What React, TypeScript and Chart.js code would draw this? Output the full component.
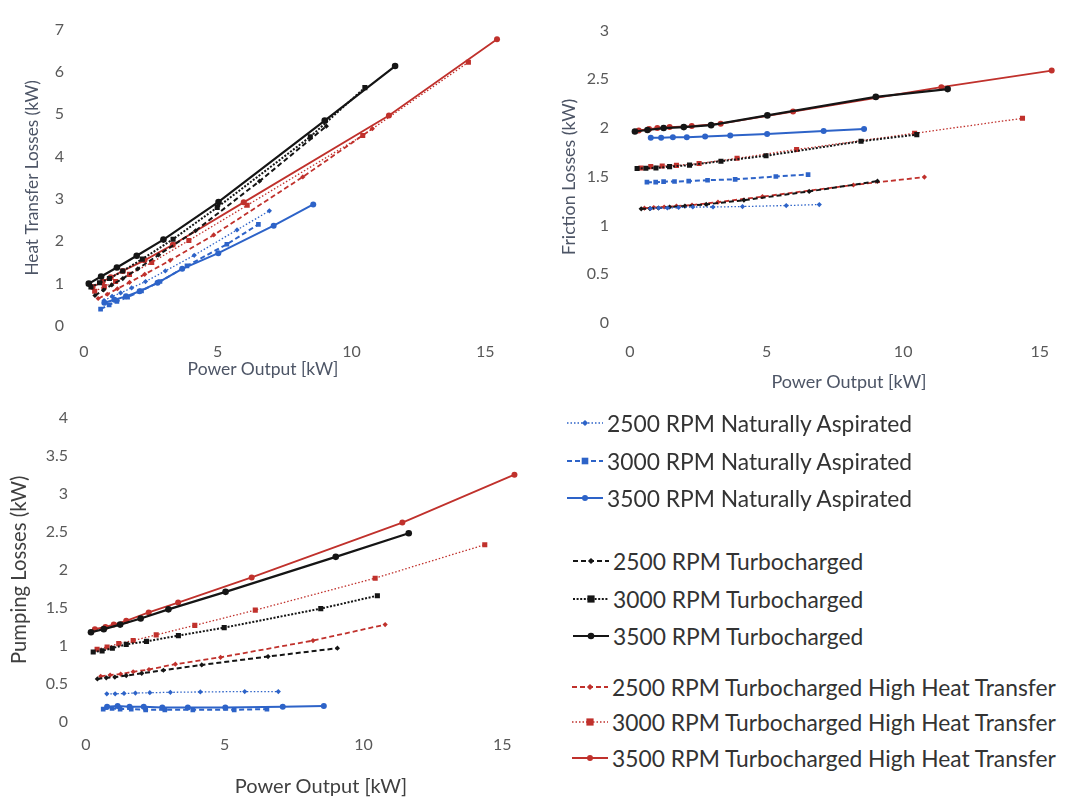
import React, { useEffect, useRef } from "react";
import { Chart, registerables } from "chart.js";

Chart.register(...registerables);

const FONT = "Lato, 'Open Sans', sans-serif";
const BLUE = "#2d63c8";
const BLACK = "#151515";
const RED = "#c0312c";
const TICK = "#595959";
const TITLE = "#4d5566";

// ---- Data (Power output [kW] and losses [kW]) ----
const NA2500_X = [0.75, 1.05, 1.37, 1.78, 2.3, 3.04, 4.12, 5.72, 6.93];
const NA2500_HEAT = [0.6, 0.7, 0.78, 0.9, 1.05, 1.3, 1.67, 2.27, 2.72];
const NA2500_FRICTION = [1.175, 1.18, 1.18, 1.185, 1.19, 1.19, 1.195, 1.205, 1.215];
const NA2500_PUMPING = [0.37, 0.37, 0.375, 0.38, 0.385, 0.39, 0.395, 0.4, 0.4];

const NA3000_X = [0.62, 0.94, 1.23, 1.63, 2.15, 2.84, 3.85, 5.34, 6.52];
const NA3000_HEAT = [0.4, 0.5, 0.58, 0.68, 0.83, 1.05, 1.42, 1.93, 2.4];
const NA3000_FRICTION = [1.445, 1.445, 1.45, 1.452, 1.455, 1.465, 1.474, 1.503, 1.523];
const NA3000_PUMPING = [0.17, 0.18, 0.17, 0.17, 0.16, 0.16, 0.16, 0.16, 0.17];

const NA3500_X = [0.76, 1.14, 1.57, 2.08, 2.75, 3.67, 5.02, 7.09, 8.57];
const NA3500_HEAT = [0.55, 0.62, 0.7, 0.82, 1.02, 1.35, 1.72, 2.37, 2.87];
const NA3500_FRICTION = [1.9, 1.9, 1.905, 1.907, 1.914, 1.925, 1.94, 1.97, 1.99];
const NA3500_PUMPING = [0.2, 0.21, 0.2, 0.2, 0.19, 0.19, 0.19, 0.2, 0.21];

const T2500_X = [0.41, 0.73, 1.04, 1.45, 2.01, 2.79, 4.17, 6.56, 9.06];
const T2500_HEAT = [0.72, 0.85, 0.97, 1.12, 1.35, 1.68, 2.25, 3.42, 4.72];
const T2500_FRICTION = [1.171, 1.174, 1.18, 1.19, 1.2, 1.217, 1.26, 1.35, 1.455];
const T2500_PUMPING = [0.566, 0.58, 0.59, 0.61, 0.64, 0.68, 0.75, 0.86, 0.97];

const T3000_X = [0.26, 0.58, 0.95, 1.45, 2.18, 3.33, 4.98, 8.46, 10.5];
const T3000_HEAT = [0.92, 1.02, 1.12, 1.3, 1.58, 2.05, 2.8, 4.47, 5.63];
const T3000_FRICTION = [1.585, 1.588, 1.59, 1.604, 1.62, 1.66, 1.716, 1.865, 1.933];
const T3000_PUMPING = [0.92, 0.935, 0.97, 1.02, 1.06, 1.135, 1.24, 1.49, 1.66];

const T3500_X = [0.18, 0.64, 1.23, 1.97, 2.97, 5.03, 9.0, 11.63];
const T3500_HEAT = [1.0, 1.17, 1.38, 1.66, 2.04, 2.93, 4.85, 6.14];
const T3500_FRICTION = [1.965, 1.98, 2.0, 2.01, 2.03, 2.13, 2.32, 2.4];
const T3500_PUMPING = [1.18, 1.22, 1.28, 1.36, 1.48, 1.71, 2.17, 2.48];

const H2500_X = [0.53, 0.87, 1.25, 1.7, 2.27, 3.22, 4.85, 8.18, 10.78];
const H2500_HEAT = [0.65, 0.75, 0.88, 1.03, 1.22, 1.55, 2.15, 3.52, 4.66];
const H2500_FRICTION = [1.178, 1.184, 1.19, 1.2, 1.21, 1.24, 1.297, 1.416, 1.497];
const H2500_PUMPING = [0.6, 0.617, 0.63, 0.66, 0.69, 0.76, 0.85, 1.07, 1.28];

const H3000_X = [0.4, 0.76, 1.18, 1.7, 2.53, 3.92, 6.1, 10.42, 14.37];
const H3000_HEAT = [0.82, 0.93, 1.05, 1.22, 1.5, 2.02, 2.85, 4.5, 6.23];
const H3000_FRICTION = [1.59, 1.604, 1.61, 1.617, 1.636, 1.69, 1.78, 1.946, 2.1];
const H3000_PUMPING = [0.956, 0.985, 1.03, 1.07, 1.145, 1.27, 1.47, 1.89, 2.33];

const H3500_X = [0.32, 0.7, 1.0, 1.45, 2.26, 3.32, 5.97, 11.4, 15.44];
const H3500_HEAT = [0.92, 1.05, 1.15, 1.3, 1.55, 1.92, 2.92, 4.97, 6.77];
const H3500_FRICTION = [1.975, 1.99, 2.0, 2.01, 2.02, 2.045, 2.17, 2.42, 2.59];
const H3500_PUMPING = [1.22, 1.25, 1.28, 1.33, 1.44, 1.57, 1.9, 2.62, 3.25];

const X_TICK_VALUES = [0, 5, 10, 15];
const X_TITLE = "Power Output [kW]";

type Field = "heat" | "friction" | "pumping";

interface Series {
  label: string;
  color: string;
  dash: number[];
  width: number;
  point: string;
  radius: number;
  x: number[];
  heat: number[];
  friction: number[];
  pumping: number[];
}

const DOT = [1.5, 2];
const DOT_T = [2, 1.6];
const DASH = [5, 3];

const SERIES: Series[] = [
  { label: "2500 RPM Naturally Aspirated", color: BLUE, dash: DOT, width: 1.3, point: "rectRot", radius: 2.6, x: NA2500_X, heat: NA2500_HEAT, friction: NA2500_FRICTION, pumping: NA2500_PUMPING },
  { label: "3000 RPM Naturally Aspirated", color: BLUE, dash: DASH, width: 2, point: "rect", radius: 3.3, x: NA3000_X, heat: NA3000_HEAT, friction: NA3000_FRICTION, pumping: NA3000_PUMPING },
  { label: "3500 RPM Naturally Aspirated", color: BLUE, dash: [], width: 2, point: "circle", radius: 3, x: NA3500_X, heat: NA3500_HEAT, friction: NA3500_FRICTION, pumping: NA3500_PUMPING },
  { label: "2500 RPM Turbocharged", color: BLACK, dash: DASH, width: 2, point: "rectRot", radius: 2.6, x: T2500_X, heat: T2500_HEAT, friction: T2500_FRICTION, pumping: T2500_PUMPING },
  { label: "3000 RPM Turbocharged", color: BLACK, dash: DOT_T, width: 2, point: "rect", radius: 3.6, x: T3000_X, heat: T3000_HEAT, friction: T3000_FRICTION, pumping: T3000_PUMPING },
  { label: "3500 RPM Turbocharged", color: BLACK, dash: [], width: 2.2, point: "circle", radius: 3.3, x: T3500_X, heat: T3500_HEAT, friction: T3500_FRICTION, pumping: T3500_PUMPING },
  { label: "2500 RPM Turbocharged High Heat Transfer", color: RED, dash: DASH, width: 1.8, point: "rectRot", radius: 2.6, x: H2500_X, heat: H2500_HEAT, friction: H2500_FRICTION, pumping: H2500_PUMPING },
  { label: "3000 RPM Turbocharged High Heat Transfer", color: RED, dash: DOT, width: 1.3, point: "rect", radius: 3.6, x: H3000_X, heat: H3000_HEAT, friction: H3000_FRICTION, pumping: H3000_PUMPING },
  { label: "3500 RPM Turbocharged High Heat Transfer", color: RED, dash: [], width: 1.8, point: "circle", radius: 3, x: H3500_X, heat: H3500_HEAT, friction: H3500_FRICTION, pumping: H3500_PUMPING },
];

interface Geo {
  left: number; top: number; width: number; height: number;
  plotLeft: number; padTop: number; padRight: number; xAxisH: number;
  xMax: number; yMax: number; yStep: number;
  yTitle: string; yTitleSize: number; yTitlePad: number; yTitleColor: string;
  xTitleSize: number; xTitleColor: string; xTitleCx: number; xTitleCy: number;
  tickSize: number; xTickPad: number; yTickPad: number;
}

const GEO: Record<Field, Geo> = {
  heat: {
    left: 0, top: 0, width: 530, height: 385,
    plotLeft: 84, padTop: 15, padRight: 18, xAxisH: 59,
    xMax: 16, yMax: 7, yStep: 1,
    yTitle: "Heat Transfer Losses (kW)", yTitleSize: 17.2, yTitlePad: 22, yTitleColor: TITLE,
    xTitleSize: 17.5, xTitleColor: TITLE, xTitleCx: 263, xTitleCy: 369,
    tickSize: 16, xTickPad: 16, yTickPad: 20,
  },
  friction: {
    left: 530, top: 0, width: 543, height: 395,
    plotLeft: 100, padTop: 13, padRight: 6, xAxisH: 72,
    xMax: 16, yMax: 3, yStep: 0.5,
    yTitle: "Friction Losses (kW)", yTitleSize: 17.8, yTitlePad: 29, yTitleColor: TITLE,
    xTitleSize: 18, xTitleColor: TITLE, xTitleCx: 849, xTitleCy: 381,
    tickSize: 16, xTickPad: 19, yTickPad: 21,
  },
  pumping: {
    left: 0, top: 390, width: 540, height: 411,
    plotLeft: 86, padTop: 13, padRight: 10, xAxisH: 79,
    xMax: 16, yMax: 4, yStep: 0.5,
    yTitle: "Pumping Losses (kW)", yTitleSize: 20.3, yTitlePad: 7, yTitleColor: "#404040",
    xTitleSize: 20, xTitleColor: "#404040", xTitleCx: 321, xTitleCy: 785,
    tickSize: 16, xTickPad: 13, yTickPad: 18,
  },
};

function LossChart({ field }: { field: Field }) {
  const ref = useRef<HTMLCanvasElement>(null);
  const g = GEO[field];
  useEffect(() => {
    if (!ref.current) return;
    const datasets = SERIES.map((s) => ({
      label: s.label,
      data: s.x.map((x, i) => ({ x, y: s[field][i] })),
      borderColor: s.color,
      backgroundColor: s.color,
      borderWidth: s.width,
      borderDash: s.dash,
      pointStyle: s.point as any,
      pointRadius: s.radius,
      pointBorderWidth: 0,
      pointBackgroundColor: s.color,
      showLine: true,
      fill: false,
      tension: 0,
    }));
    const chart = new Chart(ref.current, {
      type: "scatter",
      data: { datasets },
      options: {
        responsive: false,
        animation: false,
        devicePixelRatio: 1,
        layout: { padding: { left: 0, top: g.padTop, right: g.padRight, bottom: 0 } },
        plugins: { legend: { display: false }, tooltip: { enabled: false } },
        scales: {
          x: {
            type: "linear",
            min: 0,
            max: g.xMax,
            grid: { display: false, drawTicks: false },
            border: { display: false },
            ticks: {
              stepSize: 5,
              padding: g.xTickPad,
              color: TICK,
              font: { family: FONT, size: g.tickSize },
              maxRotation: 0,
              autoSkip: false,
              callback: (v: any) => String(Number(v)),
            },
            afterBuildTicks: (s: any) => {
              s.ticks = X_TICK_VALUES.map((v) => ({ value: v }));
            },
            afterFit: (s: any) => {
              s.height = g.xAxisH;
            },
            title: { display: false },
          },
          y: {
            type: "linear",
            min: 0,
            max: g.yMax,
            grid: { display: false, drawTicks: false },
            border: { display: false },
            ticks: {
              stepSize: g.yStep,
              padding: g.yTickPad,
              color: TICK,
              font: { family: FONT, size: g.tickSize },
              callback: (v: any) => String(Number(v)),
            },
            afterFit: (s: any) => {
              s.width = g.plotLeft;
            },
            title: {
              display: true,
              text: g.yTitle,
              color: g.yTitleColor,
              font: { family: FONT, size: g.yTitleSize },
              padding: { top: g.yTitlePad, bottom: 0 },
            },
          },
        },
      },
    });
    return () => chart.destroy();
  }, [field]);
  return (
    <>
      <div style={{ position: "absolute", left: g.left, top: g.top, width: g.width, height: g.height }}>
        <canvas ref={ref} width={g.width} height={g.height} style={{ display: "block" }} />
      </div>
      <div
        style={{
          position: "absolute",
          left: g.xTitleCx,
          top: g.xTitleCy,
          transform: "translate(-50%, -50%)",
          fontFamily: FONT,
          fontSize: g.xTitleSize,
          lineHeight: 1,
          color: g.xTitleColor,
          whiteSpace: "nowrap",
        }}
      >
        {X_TITLE}
      </div>
    </>
  );
}

const LEGEND_ROWS_Y = [423, 461, 498, 561, 599, 636, 687, 722, 758];
const LEGEND_LINE_X = [567, 567, 567, 573, 573, 573, 572, 572, 572];
const LEGEND_LINE_W = 36;
const LEGEND_TEXT_GAP = 4;
const LEGEND_FONT_SIZE = 22.8;

function LegendRow({ s, y, x }: { s: Series; y: number; x: number }) {
  const w = LEGEND_LINE_W;
  const r = s.radius;
  let marker: React.ReactNode;
  if (s.point === "circle") marker = <circle cx={w / 2} cy={7} r={r} fill={s.color} />;
  else if (s.point === "rect") marker = <rect x={w / 2 - r} y={7 - r} width={2 * r} height={2 * r} fill={s.color} />;
  else marker = <polygon points={`${w / 2},${7 - r * 1.2} ${w / 2 + r * 1.2},7 ${w / 2},${7 + r * 1.2} ${w / 2 - r * 1.2},7`} fill={s.color} />;
  return (
    <div style={{ position: "absolute", left: x, top: y - 15, height: 30, display: "flex", alignItems: "center", whiteSpace: "nowrap" }}>
      <svg width={w} height={14} style={{ display: "block" }}>
        <line x1={0} y1={7} x2={w} y2={7} stroke={s.color} strokeWidth={s.width} strokeDasharray={s.dash.length ? s.dash.join(" ") : undefined} />
        {marker}
      </svg>
      <span style={{ marginLeft: LEGEND_TEXT_GAP, fontFamily: FONT, fontSize: LEGEND_FONT_SIZE, color: "#333333", lineHeight: "30px" }}>{s.label}</span>
    </div>
  );
}

export default function App() {
  return (
    <div style={{ position: "fixed", left: 0, top: 0, width: 1073, height: 801, background: "#ffffff", overflow: "hidden" }}>
      <LossChart field="heat" />
      <LossChart field="friction" />
      <LossChart field="pumping" />
      {SERIES.map((s, i) => (
        <LegendRow key={s.label} s={s} y={LEGEND_ROWS_Y[i]} x={LEGEND_LINE_X[i]} />
      ))}
    </div>
  );
}
